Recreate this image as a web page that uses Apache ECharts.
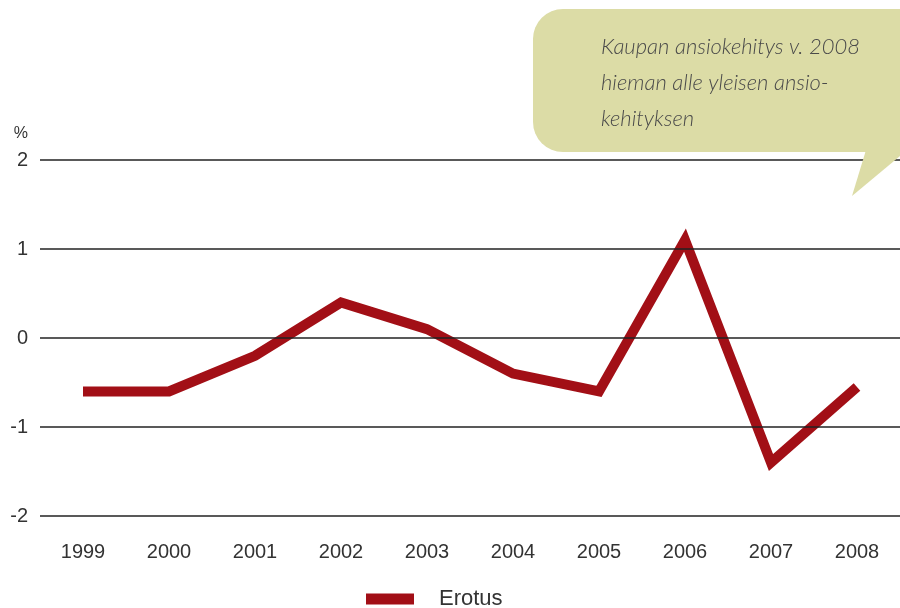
<!DOCTYPE html>
<html>
<head>
<meta charset="utf-8">
<script src="https://cdn.jsdelivr.net/npm/echarts@6/dist/echarts.min.js"></script>
<style>
html,body{margin:0;padding:0;background:#fff;}
#chart{width:900px;height:608px;}
</style>
</head>
<body>
<div id="chart"></div>
<script>
var years = ['1999','2000','2001','2002','2003','2004','2005','2006','2007','2008'];
var erotus = [-0.6, -0.6, -0.2, 0.4, 0.1, -0.4, -0.6, 1.1, -1.4, -0.55];
var seriesName = 'Erotus';
var unitLabel = '%';
var calloutLines = ['Kaupan ansiokehitys v. 2008', 'hieman alle yleisen ansio-', 'kehityksen'];

var chart = echarts.init(document.getElementById('chart'), null, {renderer: 'canvas'});
chart.setOption({
  animation: false,
  backgroundColor: '#ffffff',
  grid: {left: 40, right: 0, top: 160, bottom: 92, containLabel: false},
  legend: {
    data: [seriesName],
    left: 361,
    top: 583,
    icon: 'rect',
    itemWidth: 48,
    itemHeight: 11,
    textStyle: {fontFamily: 'Liberation Sans, Arial, sans-serif', fontSize: 22, color: '#333', padding: [0, 0, 0, 20]}
  },
  xAxis: {
    type: 'category',
    data: years,
    boundaryGap: true,
    axisLine: {show: false},
    axisTick: {show: false},
    splitLine: {show: false},
    axisLabel: {fontFamily: 'Liberation Sans, Arial, sans-serif', fontSize: 20, color: '#333', margin: 26}
  },
  yAxis: {
    type: 'value',
    min: -2,
    max: 2,
    interval: 1,
    z: 5,
    name: unitLabel,
    nameLocation: 'end',
    nameGap: 18,
    nameTextStyle: {fontFamily: 'Liberation Sans, Arial, sans-serif', fontSize: 16, color: '#333', align: 'right', padding: [0, 12, 0, 0]},
    axisLine: {show: false},
    axisTick: {show: false},
    splitLine: {show: true, lineStyle: {color: '#222', width: 1.6}},
    axisLabel: {fontFamily: 'Liberation Sans, Arial, sans-serif', fontSize: 20, color: '#333', margin: 12}
  },
  series: [{
    name: seriesName,
    type: 'line',
    data: erotus,
    symbol: 'none',
    z: 2,
    itemStyle: {color: '#a20f16'},
    lineStyle: {color: '#a20f16', width: 10, join: 'miter', cap: 'butt', miterLimit: 10}
  }],
  graphic: [
    {type: 'rect', z: 100, shape: {x: 533, y: 9, width: 420, height: 143, r: 30}, style: {fill: '#dcdca6'}},
    {type: 'polygon', z: 100, shape: {points: [[866, 150], [852, 196], [900, 156], [900, 150]]}, style: {fill: '#dcdca6'}},
    {type: 'text', z: 101, x: 601, y: 29, style: {
      text: calloutLines.join('\n'),
      font: 'italic 300 22px Lato, "Open Sans", sans-serif',
      fill: '#4a4a4a',
      lineHeight: 36,
      verticalAlign: 'top',
      align: 'left'
    }}
  ]
});
</script>
</body>
</html>
